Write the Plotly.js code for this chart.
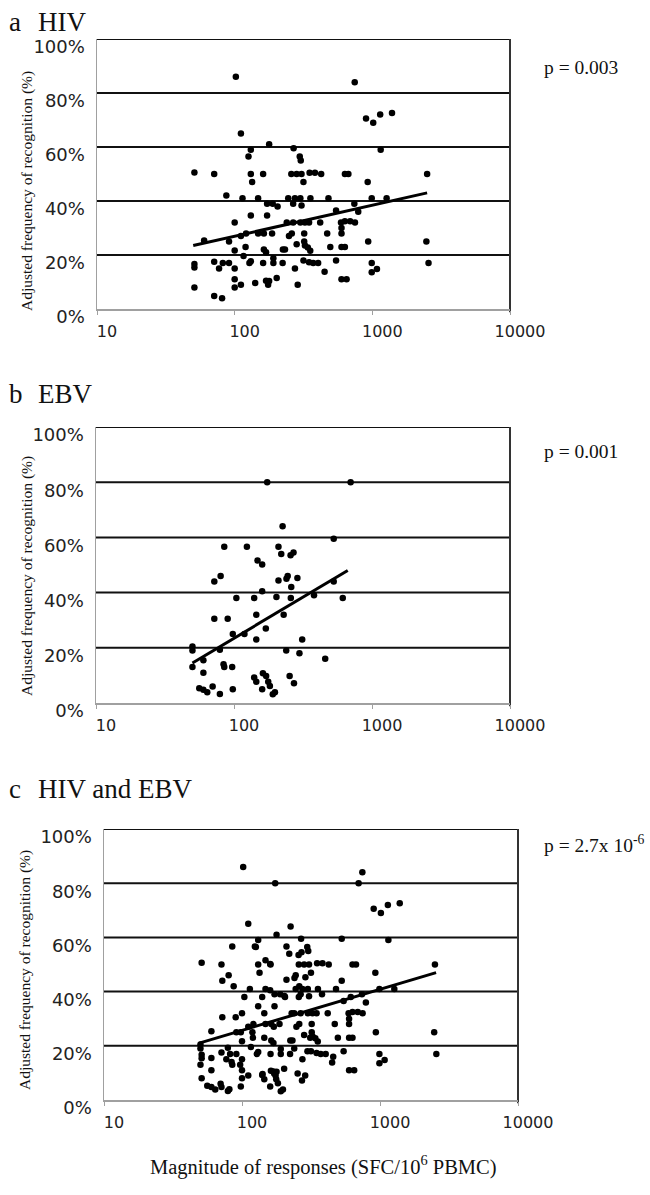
<!DOCTYPE html>
<html><head><meta charset="utf-8">
<script src="https://cdn.plot.ly/plotly-3.0.1.min.js"></script>
<style>html,body{margin:0;padding:0;background:#fff}#chart{width:650px;height:1195px}</style>
</head><body><div id="chart"></div>
<script>
// ---- data ----
const hivX = [102,111,178,131,126,51,71,131,161,134,87,114,148,172,189,205,131,172,100,91,60,111,121,148,163,187,100,120,163,169,224,116,131,128,51,51,71,77,82,91,100,161,191,191,223,51,71,81,100,100,111,141,169,175,202,178,
745,900,1015,1140,1390,268,297,302,1150,258,282,306,350,383,425,632,670,316,925,2500,245,274,300,355,480,990,1270,266,306,740,790,545,239,266,300,324,347,418,592,632,690,748,597,248,260,320,470,597,232,282,320,324,340,354,495,597,632,933,2470,316,347,372,404,274,450,545,990,990,1080,2560,287,597,650];
const hivY = [86,65,61,59,56.5,50.6,50,50,50,47,42,41,41,39,39,38,34.6,34.6,32,25,25.4,27,28,28,28,28,21.7,23,22,21,22,19.6,17.7,17,16.7,15.4,17.5,15,17,17,15,17,17,18.8,17,8,4.8,4,11,8,9,9.6,10.5,9,11.5,10.4,
84,70.6,69,72,72.6,59.5,56.5,55,59,50,50,50,50.5,50.5,50,50,50,47,47,50,41,41,41,41,41,41,41,39,38.3,39,36,36.5,32,32,32,32,32,32,32,32.5,32.5,32,30,27,28,28,28,28,22,24,25,23.5,22.8,21.6,23,23,23,25,25,18,17.3,17,17,15,13.8,18,17,13.6,14.8,17,9,11,11];
const ebvX = [174,700,225,85,124,210,528,148,160,220,257,270,80,72,210,240,245,288,260,528,104,140,160,203,258,380,614,72,90,145,229,170,98,119,145,312,50,50,79,239,298,60,50,60,84,85,97,458,56,60,64,70,79,98,140,145,160,162,171,177,182,191,198,253,272];
const ebvY = [80,80,64,56.6,56.6,56.6,59.5,51.6,50.2,54,53.5,54.5,46,44,44.4,45,46,45.3,42,44,38,38,40.5,38.4,38,39,38,30.5,30.5,32,32,27,25,25,23,23,20.5,19,19.3,19,18,15.5,13,11,14,13,13,16,5.3,4.8,3.9,6,3.3,5,9.2,7.7,5,10.8,9.8,7.7,6.2,3.2,3.9,9.8,7.2];
const hivTrendX = [50, 2500], hivTrendY = [23.5, 43];
const ebvTrendX = [50, 667],  ebvTrendY = [14.5, 48];
const allTrendX = [49, 2550], allTrendY = [21, 47];
const panelLetters = ['a', 'b', 'c'];
const panelNames = ['HIV', 'EBV', 'HIV and EBV'];
const pTexts = ['p = 0.003', 'p = 0.001', 'p = 2.7x 10<sup>-6</sup>'];
const xTickVals = [10, 100, 1000, 10000];
const yTickVals = [0, 20, 40, 60, 80, 100];
const gridVals = [20, 40, 60, 80, 100];
const yTitleText = 'Adjusted frequency of recognition (%)';
const xTitleText = 'Magnitude of responses (SFC/10<sup>6</sup> PBMC)';

// panel c combines both sets
const allX = hivX.concat(ebvX), allY = hivY.concat(ebvY);

// ---- layout geometry (pixels) ----
const W = 650, H = 1195;
const boxes = [
  {l: 97, r: 510, t: 39, b: 309, titleY: 22, pY: 67, yt: 191, ytx: 27},
  {l: 96, r: 510, t: 427, b: 703, titleY: 394, pY: 451, yt: 576, ytx: 27},
  {l: 104, r: 518, t: 829, b: 1100, titleY: 789, pY: 844, yt: 970, ytx: 25}
];
const sets = [[hivX, hivY, hivTrendX, hivTrendY], [ebvX, ebvY, ebvTrendX, ebvTrendY], [allX, allY, allTrendX, allTrendY]];

const serif = 'Liberation Serif, Times New Roman, serif';
const sans = 'DejaVu Sans, Verdana, sans-serif';
const traces = [], shapes = [], annotations = [];
const layout = {
  width: W, height: H, margin: {l: 0, r: 0, t: 0, b: 0},
  paper_bgcolor: '#fff', plot_bgcolor: '#fff', showlegend: false
};

boxes.forEach((bx, i) => {
  const s = i === 0 ? '' : String(i + 1);
  const xk = 'x' + s, yk = 'y' + s;
  const [dx, dy, tx, ty] = sets[i];
  traces.push({type: 'scatter', mode: 'markers', x: dx, y: dy, xaxis: xk, yaxis: yk,
    marker: {color: '#000', size: 6.5}, hoverinfo: 'x+y'});
  traces.push({type: 'scatter', mode: 'lines', x: tx, y: ty, xaxis: xk, yaxis: yk,
    line: {color: '#000', width: 3}, hoverinfo: 'skip'});
  layout['xaxis' + s] = {
    domain: [bx.l / W, bx.r / W], anchor: yk, type: 'log', range: [1, 4],
    tickvals: xTickVals, ticktext: xTickVals.map(String),
    showgrid: false, zeroline: false, showline: true, linecolor: '#a0a0a0', linewidth: 1.5,
    ticks: 'outside', ticklen: 4, tickcolor: '#a0a0a0', tickwidth: 1,
    tickfont: {family: sans, size: 16, color: '#222'}, ticklabelshift: 10, ticklabelstandoff: 3,
    fixedrange: true
  };
  layout['yaxis' + s] = {
    domain: [1 - bx.b / H, 1 - bx.t / H], anchor: xk, range: [0, 100],
    tickvals: yTickVals, ticktext: yTickVals.map(v => v + '%'),
    showgrid: false, zeroline: false, showline: true, linecolor: '#a0a0a0', linewidth: 1.5,
    ticks: '', tickfont: {family: sans, size: 18, color: '#222'}, ticklabelshift: 8, ticklabelstandoff: 7,
    fixedrange: true
  };
  gridVals.forEach(v => shapes.push({type: 'line', xref: xk + ' domain', yref: yk, x0: 0, x1: 1, y0: v, y1: v,
    line: {color: '#111', width: 2}, layer: 'below'}));
  shapes.push({type: 'line', xref: xk + ' domain', yref: yk + ' domain', x0: 1, x1: 1, y0: -0.012, y1: 1,
    line: {color: '#333', width: 2}, layer: 'below'});
  annotations.push({text: panelLetters[i], xref: 'paper', yref: 'paper', x: 7 / W, y: 1 - bx.titleY / H,
    xanchor: 'left', yanchor: 'middle', showarrow: false, font: {family: serif, size: 27, color: '#111'}});
  annotations.push({text: panelNames[i], xref: 'paper', yref: 'paper', x: 36 / W, y: 1 - bx.titleY / H,
    xanchor: 'left', yanchor: 'middle', showarrow: false, font: {family: serif, size: 27, color: '#111'}});
  annotations.push({text: pTexts[i], xref: 'paper', yref: 'paper', x: 542 / W, y: 1 - bx.pY / H,
    xanchor: 'left', yanchor: 'middle', showarrow: false, font: {family: serif, size: 19.5, color: '#111'}});
  annotations.push({text: yTitleText, xref: 'paper', yref: 'paper', x: bx.ytx / W, y: 1 - bx.yt / H,
    xanchor: 'center', yanchor: 'middle', textangle: -90, showarrow: false,
    font: {family: serif, size: 15.5, color: '#111'}});
});
annotations.push({text: xTitleText, xref: 'paper', yref: 'paper', x: 323 / W, y: 1 - 1165 / H,
  xanchor: 'center', yanchor: 'middle', showarrow: false, font: {family: serif, size: 20.5, color: '#111'}});

layout.shapes = shapes;
layout.annotations = annotations;
Plotly.newPlot('chart', traces, layout, {displayModeBar: false, staticPlot: true});
</script>
</body></html>
